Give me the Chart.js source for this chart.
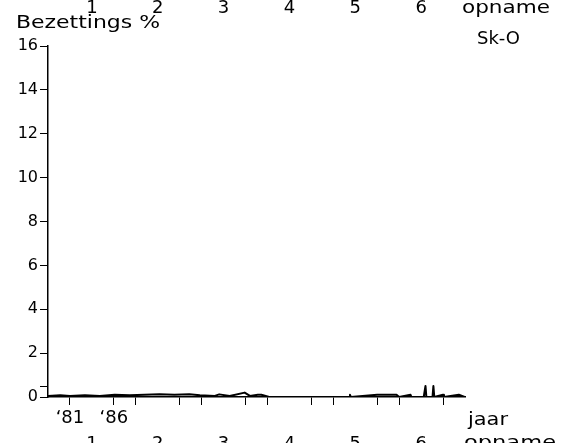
<!DOCTYPE html>
<html>
<head>
<meta charset="utf-8">
<script src="https://cdn.jsdelivr.net/npm/chart.js@4/dist/chart.umd.min.js"></script>
<style>
  html, body { margin: 0; padding: 0; background: #fff; }
</style>
</head>
<body>
<canvas id="chart" width="561" height="443"></canvas>
<script>
// positions along the time axis (years)
var obsYears  = [1978.5, 1979.9, 1981.0, 1982.7, 1984.4, 1986.1, 1987.8, 1989.5, 1991.2, 1992.9,
                 1994.6, 1995.8, 1997.5, 1998.0, 1999.2, 2000.9, 2001.5, 2002.4, 2002.8, 2003.7,
                 2012.8, 2012.9, 2013.0, 2016.0, 2017.8, 2018.2, 2018.5, 2019.8, 2019.9, 2021.3,
                 2021.5, 2021.6, 2022.3, 2022.4, 2022.5, 2023.5, 2023.6, 2025.3, 2026.0];
var obsValues = [0.05, 0.08, 0.05, 0.08, 0.05, 0.1, 0.08, 0.1, 0.12, 0.1,
                 0.12, 0.08, 0.05, 0.12, 0.05, 0.2, 0.05, 0.1, 0.1, 0,
                 0, 0.1, 0, 0.1, 0.1, 0.1, 0, 0.1, 0, 0,
                 0.5, 0, 0, 0.5, 0, 0.1, 0, 0.1, 0];

var tickYears   = [1981, 1986, 1988.5, 1993.5, 1996, 2001, 2003.5, 2008.5, 2011, 2016, 2018.5, 2023.5];
var labelYears  = [1981, 1986];
var labelTexts  = ['\u201881', '\u201886'];
var opnameYears = [1983.5, 1991, 1998.5, 2006, 2013.5, 2021];
var opnameLabels = ['1', '2', '3', '4', '5', '6'];
var yTickValues = [0, 0.5, 2, 4, 6, 8, 10, 12, 14, 16];

function fitText(ctx, text, x, y, w) {
    var m = ctx.measureText(text).width;
    ctx.save();
    ctx.translate(x, y);
    ctx.scale(w / m, 1);
    ctx.fillText(text, 0, 0);
    ctx.restore();
}

var extraText = {
    id: 'extraText',
    afterDraw: function(chart) {
        var ctx = chart.ctx;
        var xs = chart.scales.x;
        ctx.save();
        ctx.fillStyle = '#000';
        ctx.font = '18px "DejaVu Sans"';
        ctx.textBaseline = 'alphabetic';
        ctx.textAlign = 'center';
        for (var i = 0; i < opnameYears.length; i++) {
            var px = xs.getPixelForValue(opnameYears[i]);
            ctx.fillText(opnameLabels[i], px, 13);
            ctx.fillText(opnameLabels[i], px, 449);
        }
        ctx.textAlign = 'left';
        fitText(ctx, 'opname', 462, 13, 88);
        fitText(ctx, 'opname', 464, 448, 92);
        fitText(ctx, 'jaar', 468, 425, 40);
        fitText(ctx, 'Bezettings %', 16, 28, 144);
        fitText(ctx, 'Sk-O', 477, 44, 43);
        ctx.restore();
    }
};

var ctx = document.getElementById('chart').getContext('2d');
var chart = new Chart(ctx, {
    type: 'line',
    data: {
        datasets: [{
            label: 'Sk-O',
            data: obsYears.map(function(x, i) { return { x: x, y: obsValues[i] }; }),
            borderColor: '#000',
            borderWidth: 2,
            borderJoinStyle: 'round',
            borderCapStyle: 'round',
            pointRadius: 0,
            tension: 0,
            fill: false
        }]
    },
    options: {
        responsive: false,
        animation: false,
        devicePixelRatio: 1,
        layout: {
            padding: { top: 46, right: 96, left: 0, bottom: 0 }
        },
        plugins: {
            legend: { display: false },
            tooltip: { enabled: false }
        },
        scales: {
            x: {
                type: 'linear',
                min: 1978.5,
                max: 2026,
                afterBuildTicks: function(s) {
                    s.ticks = tickYears.map(function(v) { return { value: v }; });
                },
                afterFit: function(s) { s.height = 46; },
                ticks: {
                    autoSkip: false,
                    maxRotation: 0,
                    padding: 3,
                    color: '#000',
                    font: { family: 'DejaVu Sans', size: 18 },
                    callback: function(v) {
                        var k = labelYears.indexOf(v);
                        return k >= 0 ? labelTexts[k] : '';
                    }
                },
                grid: {
                    drawOnChartArea: false,
                    drawTicks: true,
                    tickLength: 8,
                    color: '#000',
                    lineWidth: 1
                },
                border: { display: true, color: '#000', width: 1.5 }
            },
            y: {
                min: 0,
                max: 16,
                afterBuildTicks: function(s) {
                    s.ticks = yTickValues.map(function(v) { return { value: v }; });
                },
                afterFit: function(s) { s.width = 48; },
                ticks: {
                    padding: 2,
                    color: '#000',
                    font: { family: 'DejaVu Sans', size: 16 },
                    callback: function(v) { return v % 2 === 0 ? v : ''; }
                },
                grid: {
                    drawOnChartArea: false,
                    drawTicks: true,
                    tickLength: 8,
                    color: '#000',
                    lineWidth: 1
                },
                border: { display: true, color: '#000', width: 1.5 }
            }
        }
    },
    plugins: [extraText]
});
</script>
</body>
</html>
